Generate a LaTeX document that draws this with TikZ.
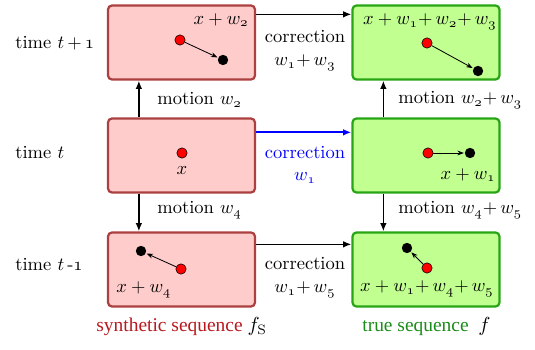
\documentclass[tikz,border=0pt]{standalone}
\usepackage{fontspec}
\usetikzlibrary{arrows.meta,calc}
\newfontfamily\timesf{Liberation Serif}
\definecolor{pinkfill}{RGB}{255,204,204}
\definecolor{pinkdraw}{RGB}{172,64,64}
\definecolor{greenfill}{RGB}{192,255,144}
\definecolor{greendraw}{RGB}{40,165,20}
\definecolor{redtext}{RGB}{185,25,30}
\definecolor{greentext}{RGB}{25,140,25}
\newcommand{\os}[1]{\mathnormal{#1}}
\tikzset{
  box/.style={draw, line width=1.2pt, rounded corners=2.2pt, minimum width=79.4pt, minimum height=40pt, inner sep=0pt},
  synbox/.style={box, draw=pinkdraw, fill=pinkfill},
  truebox/.style={box, draw=greendraw, fill=greenfill},
  bigarrow/.style={line width=0.8pt, -{Latex[length=4.5pt,width=3.6pt]}},
  smallarrow/.style={line width=0.45pt, -{Stealth[length=3.5pt,width=2.6pt]}, shorten >=0.3pt},
  reddot/.style={circle, draw=black, line width=0.3pt, fill=red, minimum size=5.6pt, inner sep=0pt},
  blackdot/.style={circle, fill=black, minimum size=5.6pt, inner sep=0pt},
  lbl/.style={inner sep=0pt},
}
\begin{document}
\begin{tikzpicture}[x=0.54pt,y=-0.54pt]
\useasboundingbox (0,0) rectangle (535,350);
% boxes
\node[synbox] (lt) at (181.5,42.5) {};
\node[synbox] (lm) at (181.5,155.5) {};
\node[synbox] (lb) at (181.5,269.5) {};
\node[truebox] (rt) at (426,42.5) {};
\node[truebox] (rm) at (426,155.5) {};
\node[truebox] (rb) at (426,269.5) {};
% time labels
\node[lbl, anchor=west] (tt) at (15,43) {time $t\,{+}\,\os{1}$};
\node[lbl, anchor=west] (tm) at (15,153) {time $t$};
\node[lbl, anchor=west] (tb) at (15,265) {time $t$\,-$\os{1}$};
% horizontal arrows
\draw[bigarrow] ($(lt.north east)+(0,10)$) -- ($(rt.north west)+(0,10)$);
\draw[bigarrow, blue, line width=1.2pt] ($(lm.north east)+(0,15)$) -- ($(rm.north west)+(0,15)$);
\draw[bigarrow] ($(lb.north east)+(0,13)$) -- ($(rb.north west)+(0,13)$);
\node[lbl] (c1) at (305,37) {correction};
\node[lbl] (c1w) at (305,63) {$w_{\os{1}}{+}\,w_{\os{3}}$};
\node[lbl, blue] (c2) at (305,153) {correction};
\node[lbl, blue] (c2w) at (305,178) {$w_{\os{1}}$};
\node[lbl] (c3) at (305,264) {correction};
\node[lbl] (c3w) at (305,290) {$w_{\os{1}}{+}\,w_{\os{5}}$};
% vertical arrows
\draw[bigarrow] ($(lm.north west)+(32,0)$) -- ($(lt.south west)+(32,0)$);
\draw[bigarrow] ($(lm.south west)+(32,0)$) -- ($(lb.north west)+(32,0)$);
\draw[bigarrow] ($(rm.north west)+(32,0)$) -- ($(rt.south west)+(32,0)$);
\draw[bigarrow] ($(rm.south west)+(32,0)$) -- ($(rb.north west)+(32,0)$);
\node[lbl, anchor=west] (m1) at (157,100) {motion $w_{\os{2}}$};
\node[lbl, anchor=west] (m2) at (157,210) {motion $w_{\os{4}}$};
\node[lbl, anchor=west] (m3) at (398,100) {motion $w_{\os{2}}{+}\,w_{\os{3}}$};
\node[lbl, anchor=west] (m4) at (398,210) {motion $w_{\os{4}}{+}\,w_{\os{5}}$};
% box contents
\node[lbl, anchor=east] (l1) at (249,20) {$x+w_{\os{2}}$};
\node[reddot] (r1) at (180,40) {};
\node[blackdot] (b1) at (223,60) {};
\draw[smallarrow] (r1) -- (b1);

\node[reddot] (r2) at (182,153) {};
\node[lbl] (l2) at (182,171) {$x$};

\node[reddot] (r3) at (181,269) {};
\node[blackdot] (b3) at (141,251) {};
\draw[smallarrow] (r3) -- (b3);
\node[lbl, anchor=west] (l3) at (116,290) {$x+w_{\os{4}}$};

\node[lbl] (l4) at (430,22) {$x+w_{\os{1}}{+}\,w_{\os{2}}{+}\,w_{\os{3}}$};
\node[reddot] (r4) at (427,43) {};
\node[blackdot] (b4) at (478,71) {};
\draw[smallarrow] (r4) -- (b4);

\node[reddot] (r5) at (428,153) {};
\node[blackdot] (b5) at (470,153) {};
\draw[smallarrow] (r5) -- (b5);
\node[lbl, anchor=east] (l5) at (496,175) {$x+w_{\os{1}}$};

\node[reddot] (r6) at (427,268) {};
\node[blackdot] (b6) at (407,248) {};
\draw[smallarrow] (r6) -- (b6);
\node[lbl] (l6) at (427,289) {$x+w_{\os{1}}{+}\,w_{\os{4}}{+}\,w_{\os{5}}$};
% bottom labels
\node[lbl, redtext, anchor=west] (s1) at (96,327) {\timesf\fontsize{10.5}{12}\selectfont synthetic sequence\ {\color{black}$f_{\mathrm{S}}$}};
\node[lbl, greentext, anchor=west] (s2) at (362,327) {\timesf\fontsize{10.5}{12}\selectfont true sequence\enspace{\color{black}$f$}};
\end{tikzpicture}
\end{document}
